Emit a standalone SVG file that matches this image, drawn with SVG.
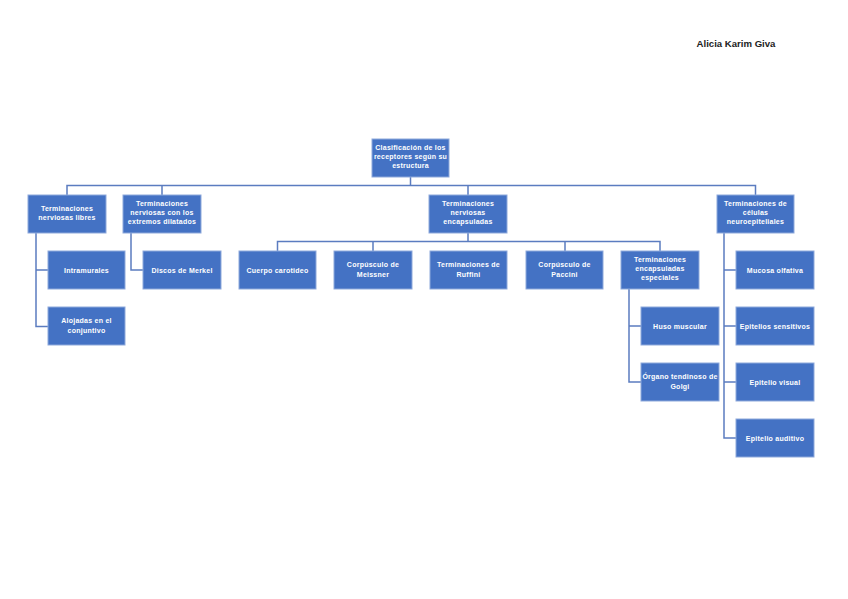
<svg xmlns="http://www.w3.org/2000/svg" width="848" height="599" viewBox="0 0 848 599">
<style>
.n rect{fill:#4472C4;stroke:#8EA9DB;stroke-width:1}
.n text{fill:#fff;font-family:"Liberation Sans",Arial,sans-serif;font-size:7px;font-weight:bold;letter-spacing:0.25px;text-anchor:middle}
.c{fill:none;stroke:#5B7CC0;stroke-width:1.5}
</style>
<rect width="848" height="599" fill="#fff"/>
<text x="736" y="47" font-family="Liberation Sans,Arial,sans-serif" font-size="9.6" font-weight="bold" fill="#222" text-anchor="middle">Alicia Karim Giva</text>
<g id="connectors">
<path class="c" d="M410.5 177V185.5M67 195V185.5H755.5V195M162 185.5V195M468 185.5V195"/>
<path class="c" d="M36 233V326.5H48M36 270H48"/>
<path class="c" d="M131 233V270H143"/>
<path class="c" d="M468 233V241.5M277.5 251V241.5H660V251M373 241.5V251M565 241.5V251"/>
<path class="c" d="M629 289V382H641M629 326H641"/>
<path class="c" d="M724 233V438H736M724 270H736M724 326H736M724 382H736"/>
</g>
<g id="root" class="n"><rect x="372" y="139" width="77" height="38"/><text x="410.5" y="150">Clasificación de los</text><text x="410.5" y="159">receptores según su</text><text x="410.5" y="168">estructura</text></g>
<g id="libres" class="n"><rect x="28" y="195" width="78" height="38"/><text x="67" y="211">Terminaciones</text><text x="67" y="220">nerviosas libres</text></g>
<g id="dilatados" class="n"><rect x="123" y="195" width="78" height="38"/><text x="162" y="206">Terminaciones</text><text x="162" y="215">nerviosas con los</text><text x="162" y="224">extremos dilatados</text></g>
<g id="encapsuladas" class="n"><rect x="429" y="195" width="78" height="38"/><text x="468" y="206">Terminaciones</text><text x="468" y="215">nerviosas</text><text x="468" y="224">encapsuladas</text></g>
<g id="neuroepiteliales" class="n"><rect x="717" y="195" width="77" height="38"/><text x="755.5" y="206">Terminaciones de</text><text x="755.5" y="215">células</text><text x="755.5" y="224">neuroepiteliales</text></g>
<g id="intramurales" class="n"><rect x="48" y="251" width="77" height="38"/><text x="86.5" y="272.5">Intramurales</text></g>
<g id="alojadas" class="n"><rect x="48" y="307" width="77" height="38"/><text x="86.5" y="323">Alojadas en el</text><text x="86.5" y="333">conjuntivo</text></g>
<g id="merkel" class="n"><rect x="143" y="251" width="78" height="38"/><text x="182" y="272.5">Discos de Merkel</text></g>
<g id="carotideo" class="n"><rect x="239" y="251" width="77" height="38"/><text x="277.5" y="272.5">Cuerpo carotideo</text></g>
<g id="meissner" class="n"><rect x="334" y="251" width="78" height="38"/><text x="373" y="267">Corpúsculo de</text><text x="373" y="277">Meissner</text></g>
<g id="ruffini" class="n"><rect x="430" y="251" width="77" height="38"/><text x="468.5" y="267">Terminaciones de</text><text x="468.5" y="277">Ruffini</text></g>
<g id="paccini" class="n"><rect x="526" y="251" width="77" height="38"/><text x="564.5" y="267">Corpúsculo de</text><text x="564.5" y="277">Paccini</text></g>
<g id="especiales" class="n"><rect x="621" y="251" width="78" height="38"/><text x="660" y="262">Terminaciones</text><text x="660" y="271">encapsuladas</text><text x="660" y="280">especiales</text></g>
<g id="huso" class="n"><rect x="641" y="307" width="78" height="38"/><text x="680" y="328.5">Huso muscular</text></g>
<g id="golgi" class="n"><rect x="641" y="363" width="78" height="38"/><text x="680" y="379">Órgano tendinoso de</text><text x="680" y="389">Golgi</text></g>
<g id="olfativa" class="n"><rect x="736" y="251" width="78" height="38"/><text x="775" y="272.5">Mucosa olfativa</text></g>
<g id="sensitivos" class="n"><rect x="736" y="307" width="78" height="38"/><text x="775" y="328.5">Epitelios sensitivos</text></g>
<g id="visual" class="n"><rect x="736" y="363" width="78" height="38"/><text x="775" y="384.5">Epitelio visual</text></g>
<g id="auditivo" class="n"><rect x="736" y="419" width="78" height="38"/><text x="775" y="440.5">Epitelio auditivo</text></g>
</svg>
